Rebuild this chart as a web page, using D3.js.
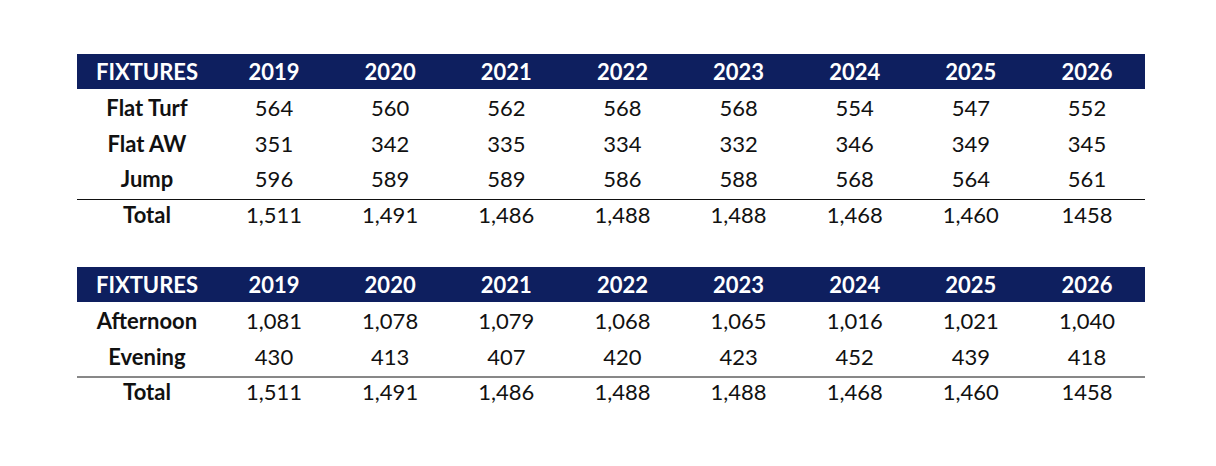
<!DOCTYPE html>
<html><head><meta charset="utf-8">
<script src="https://cdn.jsdelivr.net/npm/d3@7"></script>
<style>body{margin:0;background:#fff}</style>
</head><body>
<svg id="chart" width="1216" height="466"></svg>
<script>
var years = ["2019","2020","2021","2022","2023","2024","2025","2026"];
var flatTurf = ["564","560","562","568","568","554","547","552"];
var flatAW = ["351","342","335","334","332","346","349","345"];
var jump = ["596","589","589","586","588","568","564","561"];
var total = ["1,511","1,491","1,486","1,488","1,488","1,468","1,460","1458"];
var afternoon = ["1,081","1,078","1,079","1,068","1,065","1,016","1,021","1,040"];
var evening = ["430","413","407","420","423","452","439","418"];

var svg = d3.select('#chart');
var font = "Lato, 'Open Sans', sans-serif";
var labelX = 147;
var x = d3.scalePoint().domain(years).range([274, 1087]);

function table(top, rows) {
  svg.append('rect').attr('x', 77).attr('y', top).attr('width', 1068).attr('height', 35).attr('fill', '#0e1f5f');
  svg.append('text').attr('x', labelX).attr('y', top + 26).attr('text-anchor', 'middle').attr('fill', '#fff')
    .style('font', 'bold 22px ' + font).text("FIXTURES");
  svg.selectAll(null).data(years).enter().append('text')
    .attr('x', function(d){ return x(d); }).attr('y', top + 26)
    .attr('text-anchor', 'middle').attr('fill', '#fff')
    .style('font', 'bold 22px ' + font).text(function(d){ return d; });
  rows.forEach(function(r, i) {
    var y = top + 62 + i * 35.5;
    svg.append('text').attr('x', labelX).attr('y', y).attr('text-anchor', 'middle')
      .style('font', 'bold 22px ' + font).attr('fill', '#111').text(r[0]);
    svg.selectAll(null).data(r[1]).enter().append('text')
      .attr('x', function(d, j){ return x(years[j]); }).attr('y', y)
      .attr('text-anchor', 'middle').attr('fill', '#111')
      .style('font', '22px ' + font).text(function(d){ return d; });
  });
  var ly = top + 35 + (rows.length - 1) * 35.5 + 4;
  svg.append('line').attr('x1', 77).attr('x2', 1145).attr('y1', ly).attr('y2', ly).attr('stroke', '#111').attr('stroke-width', 1);
}

table(54, [["Flat Turf", flatTurf], ["Flat AW", flatAW], ["Jump", jump], ["Total", total]]);
table(267, [["Afternoon", afternoon], ["Evening", evening], ["Total", total]]);
</script>
</body></html>
